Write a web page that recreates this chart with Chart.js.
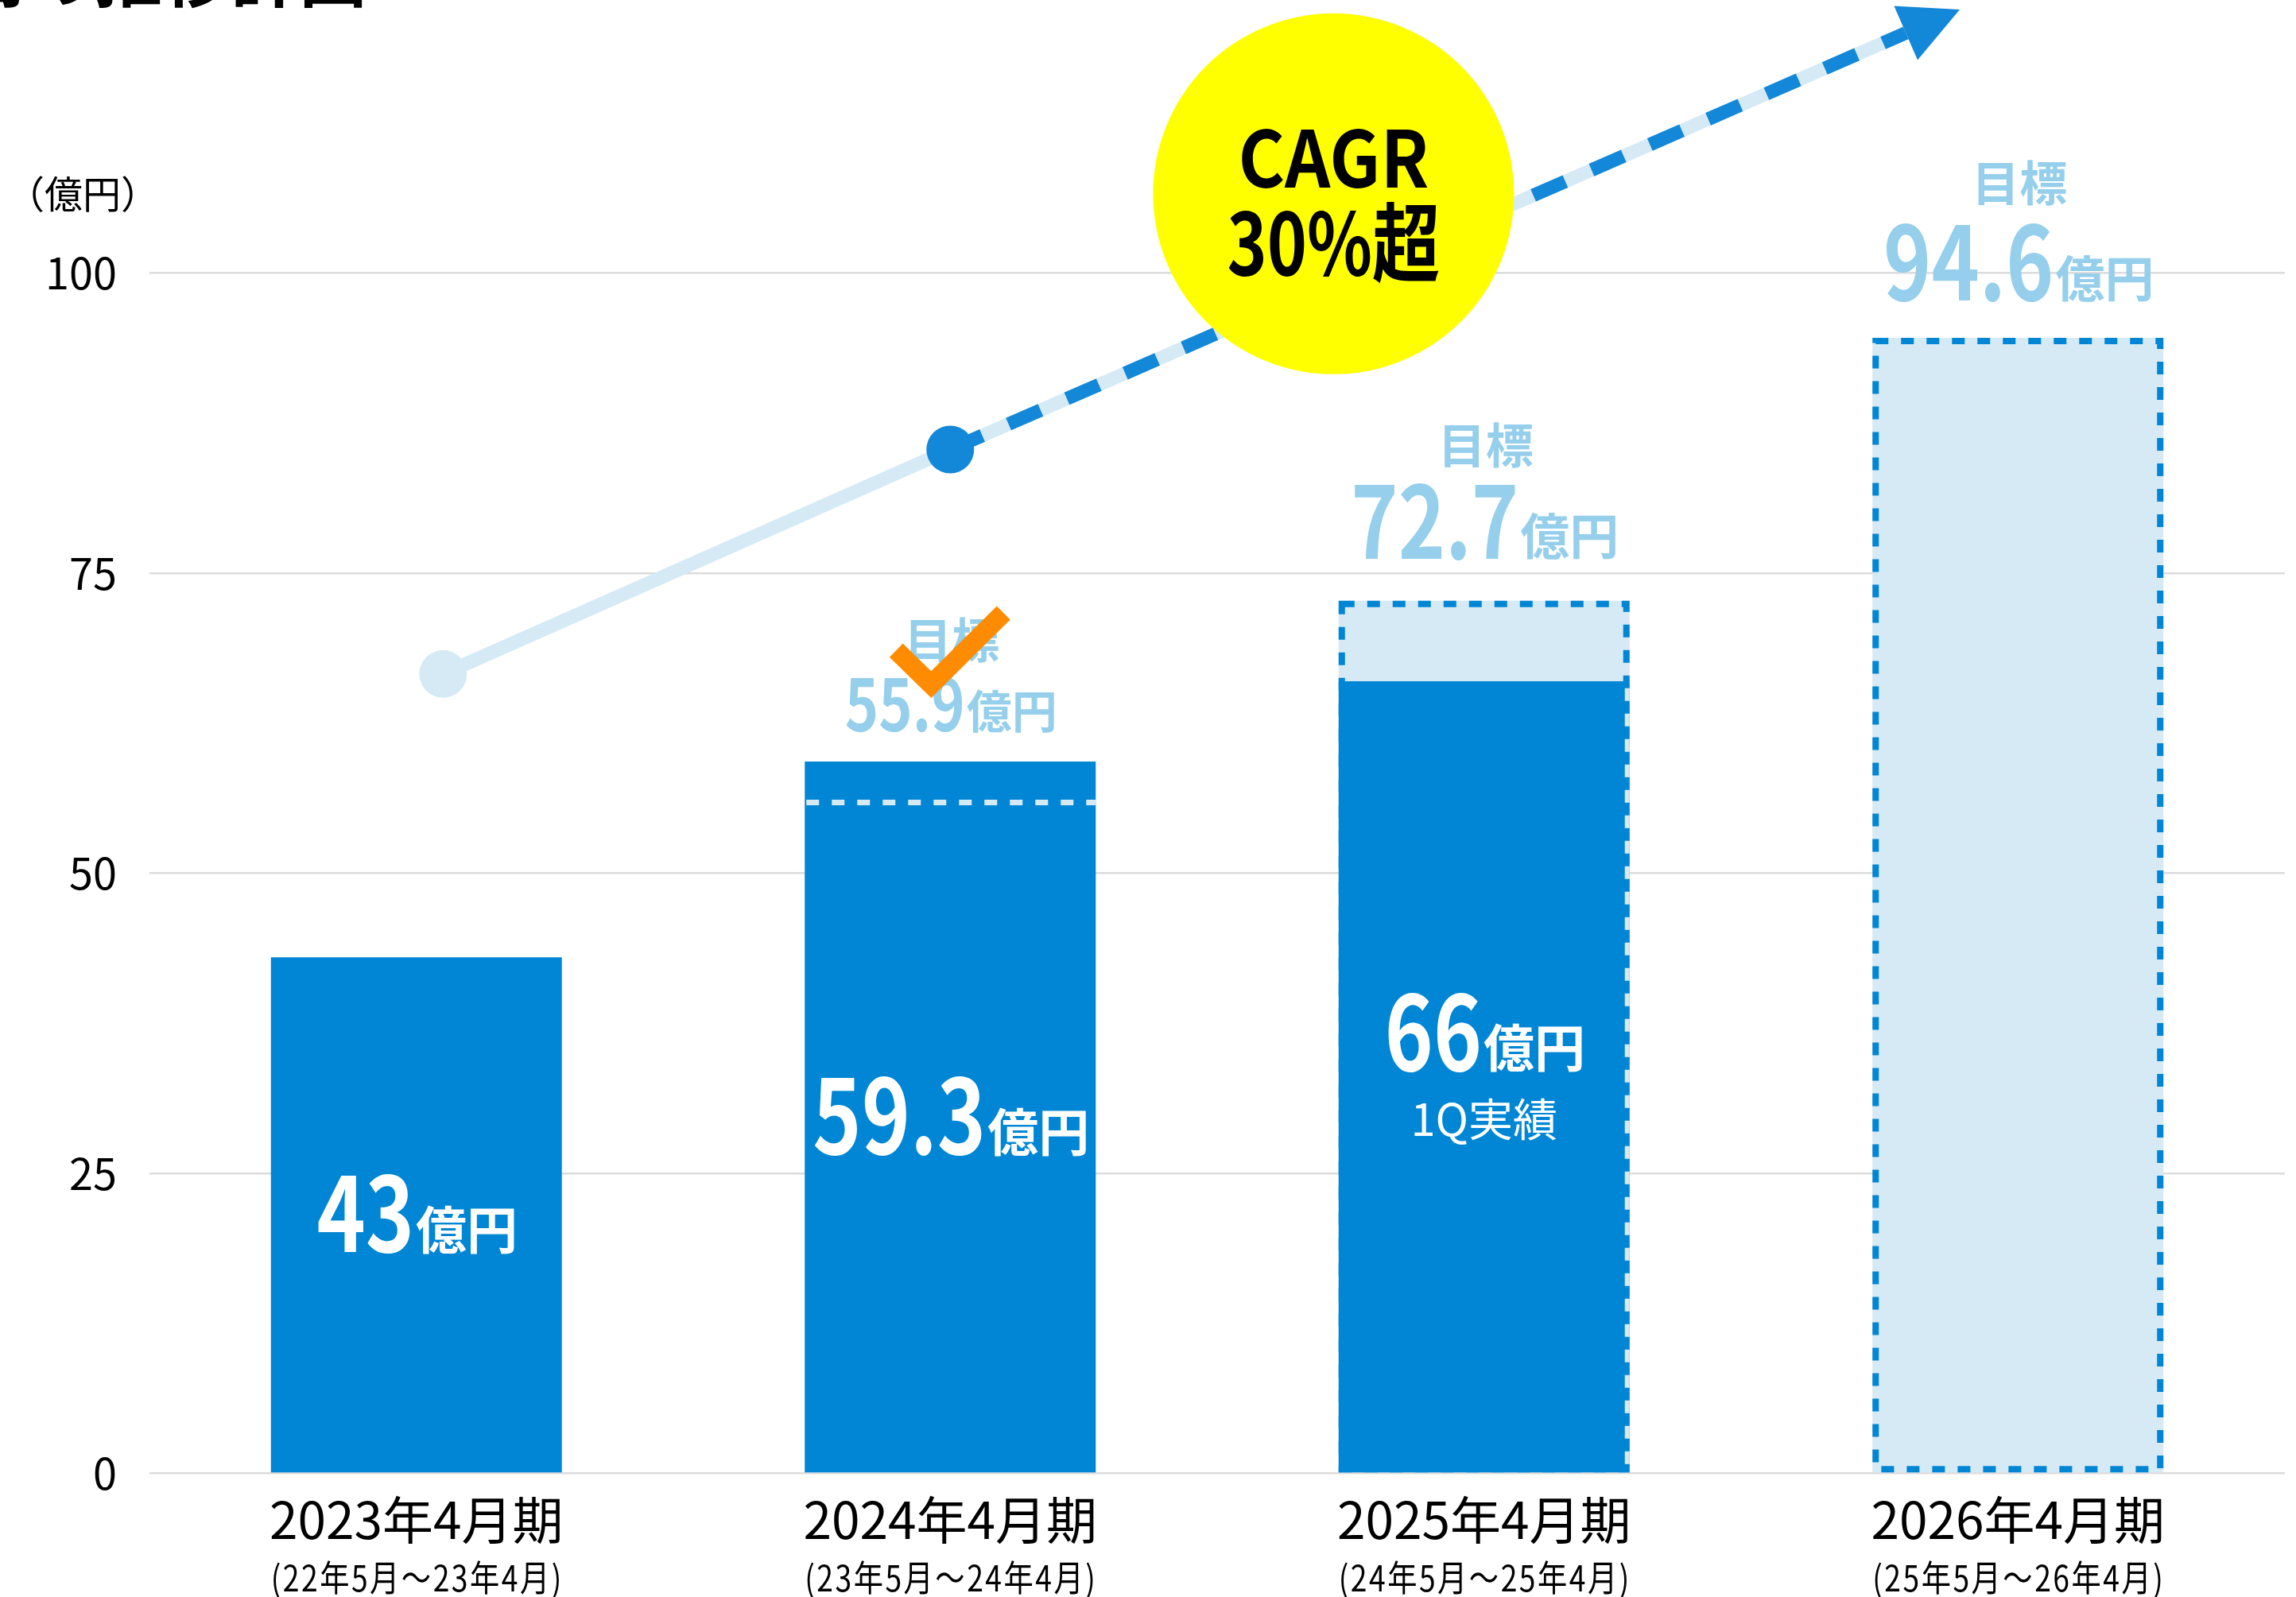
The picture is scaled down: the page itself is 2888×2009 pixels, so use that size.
<!DOCTYPE html>
<html lang="ja">
<head>
<meta charset="UTF-8">
<title>売上高推移計画</title>
<script src="https://cdn.jsdelivr.net/npm/chart.js"></script>
<style>
  html, body { margin: 0; padding: 0; background: #fff; }
  .chart-wrap { width: 2888px; height: 2009px; position: relative; }
</style>
</head>
<body>
<div class="chart-wrap"><canvas id="salesChart"></canvas></div>
<script>
// --- data ---
const periods = ['2023年4月期', '2024年4月期', '2025年4月期', '2026年4月期'];
const periodRanges = ['(22年5月～23年4月)', '(23年5月～24年4月)', '(24年5月～25年4月)', '(25年5月～26年4月)'];
const actualSales = [43, 59.3, 66, null];
const actualNotes = ['', '', '1Q実績', ''];
const targetSales = [null, 55.9, 72.7, 94.6];
const yTicks = [0, 25, 50, 75, 100];
const yMax = 122.75;
// growth line (x = category index)
const trendX = [0.05, 1];
const trendY = [66.6, 85.3];
const forecastX = [1, 2.79];
const forecastY = [85.3, 120];
const cagrLines = ['CAGR', '30%超'];
const cagrAt = [1.718, 106.6];
const unitLabel = '億円';
const axisUnit = '（億円）';
const titleText = '売上高の推移計画';

// --- styles ---
const FONT = '"Noto Sans CJK JP", "Noto Sans", sans-serif';
const BAR_BLUE = '#0086d4';
const LINE_BLUE = '#1488d8';
const LIGHT = '#d5eaf5';
const LABEL_BLUE = '#95cfeb';

const toPts = (xs, ys) => xs.map((x, i) => ({ x: x, y: ys[i] }));

// number (horizontally squeezed) followed by the unit
function drawAmount(ctx, cx, baseline, value, numSize, unitSize, color, squeeze) {
    const num = String(value);
    ctx.font = `bold ${numSize}px ${FONT}`;
    const w1 = ctx.measureText(num).width * squeeze;
    ctx.font = `bold ${unitSize}px ${FONT}`;
    const w2 = ctx.measureText(unitLabel).width;
    const x0 = cx - (w1 + w2) / 2;
    ctx.fillStyle = color;
    ctx.textAlign = 'left';
    ctx.textBaseline = 'alphabetic';
    ctx.save();
    ctx.translate(x0, baseline);
    ctx.scale(squeeze, 1);
    ctx.font = `bold ${numSize}px ${FONT}`;
    ctx.fillText(num, 0, 0);
    ctx.restore();
    ctx.font = `bold ${unitSize}px ${FONT}`;
    ctx.fillText(unitLabel, x0 + w1 + 2, baseline - unitSize * 0.07);
}

// target label sizes per bar: [number size, unit size, gap above bar top, title offset]
const targetStyle = [null, [90, 57, 38, 115], [126, 62, 53, 143], [128, 62, 47, 148]];

const decorPlugin = {
    id: 'decor',
    afterDatasetsDraw(chart) {
        const ctx = chart.ctx;
        const x = chart.scales.x, y = chart.scales.y, x2 = chart.scales.x2;
        const targetMeta = chart.getDatasetMeta(1);
        ctx.save();

        // dashed outline of target boxes
        targetSales.forEach((v, i) => {
            const bar = targetMeta.data[i];
            if (v == null || !bar) return;
            const left = bar.x - bar.width / 2, right = bar.x + bar.width / 2;
            const top = bar.y, bottom = bar.base;
            const act = actualSales[i];
            if (act != null && act >= v) {
                // target reached: dashed light line across the bar
                ctx.strokeStyle = LIGHT;
                ctx.lineWidth = 7;
                ctx.setLineDash([16, 16]);
                ctx.beginPath();
                ctx.moveTo(left + 2, y.getPixelForValue(v));
                ctx.lineTo(right, y.getPixelForValue(v));
                ctx.stroke();
            } else {
                if (act != null) {
                    // light edge where the box runs along the actual bar
                    ctx.setLineDash([]);
                    ctx.strokeStyle = LIGHT;
                    ctx.lineWidth = 6;
                    ctx.beginPath();
                    ctx.moveTo(right - 3, y.getPixelForValue(act));
                    ctx.lineTo(right - 3, bottom);
                    ctx.stroke();
                }
                ctx.strokeStyle = BAR_BLUE;
                ctx.lineWidth = 8;
                ctx.setLineDash([16, 16]);
                ctx.strokeRect(left + 4, top + 4, right - left - 8, bottom - top - 8);
            }
        });
        ctx.setLineDash([]);

        // arrow head at end of forecast line
        const fm = chart.getDatasetMeta(2);
        const pA = fm.data[fm.data.length - 2], pB = fm.data[fm.data.length - 1];
        const ang = Math.atan2(pB.y - pA.y, pB.x - pA.x);
        const len = 74, half = 37;
        ctx.fillStyle = LINE_BLUE;
        ctx.beginPath();
        ctx.moveTo(pB.x + Math.cos(ang) * len, pB.y + Math.sin(ang) * len);
        ctx.lineTo(pB.x - Math.sin(ang) * half, pB.y + Math.cos(ang) * half);
        ctx.lineTo(pB.x + Math.sin(ang) * half, pB.y - Math.cos(ang) * half);
        ctx.closePath();
        ctx.fill();

        // CAGR bubble
        const cx = x2.getPixelForValue(cagrAt[0]), cy = y.getPixelForValue(cagrAt[1]);
        ctx.fillStyle = '#ffff00';
        ctx.beginPath();
        ctx.arc(cx, cy, 227, 0, Math.PI * 2);
        ctx.fill();
        ctx.fillStyle = '#000';
        ctx.textAlign = 'center';
        ctx.textBaseline = 'middle';
        ctx.font = `bold 98px ${FONT}`;
        ctx.fillText(cagrLines[0], cx, cy - 45, 240);
        ctx.font = `bold 108px ${FONT}`;
        ctx.fillText(cagrLines[1], cx, cy + 61, 268);

        // white labels inside actual bars
        const actualMeta = chart.getDatasetMeta(0);
        actualSales.forEach((v, i) => {
            const bar = actualMeta.data[i];
            if (v == null || !bar) return;
            const mid = (bar.y + bar.base) / 2;
            if (actualNotes[i]) {
                drawAmount(ctx, bar.x, mid - 8, v, 130, 64, '#fff', 0.8);
                ctx.fillStyle = '#fff';
                ctx.textAlign = 'center';
                ctx.textBaseline = 'middle';
                ctx.font = `56px ${FONT}`;
                ctx.fillText(actualNotes[i], bar.x, mid + 53);
            } else {
                drawAmount(ctx, bar.x, mid + 47, v, 130, 64, '#fff', 0.8);
            }
        });

        // target labels above bars
        targetSales.forEach((v, i) => {
            if (v == null) return;
            const st = targetStyle[i];
            const topVal = Math.max(v, actualSales[i] || 0);
            const base = y.getPixelForValue(topVal) - st[2];
            const cxl = x.getPixelForValue(i);
            drawAmount(ctx, cxl, base, v, st[0], st[1], LABEL_BLUE, 0.8);
            ctx.fillStyle = LABEL_BLUE;
            ctx.textAlign = 'center';
            ctx.textBaseline = 'middle';
            ctx.font = `bold 60px ${FONT}`;
            ctx.fillText('目標', cxl + 2, base - st[3]);
            if (actualSales[i] != null && actualSales[i] >= v) {
                // achieved: orange check mark
                ctx.strokeStyle = '#ff8c00';
                ctx.lineWidth = 24;
                ctx.lineJoin = 'miter';
                ctx.lineCap = 'butt';
                ctx.beginPath();
                ctx.moveTo(cxl - 68, base - 102);
                ctx.lineTo(cxl - 24, base - 59);
                ctx.lineTo(cxl + 67, base - 149);
                ctx.stroke();
            }
        });

        ctx.restore();
    },
    afterDraw(chart) {
        const ctx = chart.ctx;
        const x = chart.scales.x;
        const area = chart.chartArea;
        ctx.save();
        // period sub labels
        ctx.fillStyle = '#000';
        ctx.textAlign = 'center';
        ctx.textBaseline = 'middle';
        ctx.font = `45px ${FONT}`;
        if ('letterSpacing' in ctx) ctx.letterSpacing = '3px';
        periodRanges.forEach((t, i) => {
            ctx.fillText(t, x.getPixelForValue(i) + 1, area.bottom + 131, 368);
        });
        if ('letterSpacing' in ctx) ctx.letterSpacing = '0px';
        // unit label
        ctx.font = `48px ${FONT}`;
        ctx.fillText(axisUnit, 104, 244);
        // heading (cut off at the top edge)
        ctx.textAlign = 'right';
        ctx.textBaseline = 'alphabetic';
        ctx.font = `bold 86px ${FONT}`;
        ctx.fillText(titleText, 462, 2);
        ctx.restore();
    }
};

const ctx = document.getElementById('salesChart').getContext('2d');
const salesChart = new Chart(ctx, {
    type: 'bar',
    data: {
        labels: periods,
        datasets: [
            {
                label: '実績',
                data: actualSales,
                backgroundColor: BAR_BLUE,
                grouped: false,
                barPercentage: 0.545,
                categoryPercentage: 1,
                order: 3
            },
            {
                label: '目標',
                data: targetSales,
                backgroundColor: LIGHT,
                grouped: false,
                barPercentage: 0.545,
                categoryPercentage: 1,
                order: 4
            },
            {
                type: 'line',
                label: '成長見通し',
                data: toPts(forecastX, forecastY),
                xAxisID: 'x2',
                borderColor: LINE_BLUE,
                borderWidth: 17,
                borderDash: [44, 36],
                borderCapStyle: 'butt',
                pointRadius: [30, 0],
                pointBackgroundColor: LINE_BLUE,
                pointBorderWidth: 0,
                clip: false,
                order: 0
            },
            {
                type: 'line',
                label: '成長見通し（下地）',
                data: toPts(forecastX, forecastY),
                xAxisID: 'x2',
                borderColor: LIGHT,
                borderWidth: 17,
                borderCapStyle: 'butt',
                pointRadius: 0,
                clip: false,
                order: 1
            },
            {
                type: 'line',
                label: '推移',
                data: toPts(trendX, trendY),
                xAxisID: 'x2',
                borderColor: LIGHT,
                borderWidth: 17,
                borderCapStyle: 'butt',
                pointRadius: [30, 0],
                pointBackgroundColor: LIGHT,
                pointBorderWidth: 0,
                order: 2
            }
        ]
    },
    options: {
        responsive: true,
        maintainAspectRatio: false,
        animation: false,
        events: [],
        layout: { padding: { top: 0, left: 0, bottom: 0, right: 14 }, autoPadding: false },
        plugins: { legend: { display: false }, tooltip: { enabled: false } },
        scales: {
            x: {
                type: 'category',
                offset: true,
                grid: { display: false },
                border: { display: false },
                ticks: { color: '#000', font: { family: FONT, size: 64 }, padding: 12, maxRotation: 0, autoSkip: false },
                afterFit: s => { s.height = 155.5; s.paddingLeft = 0; s.paddingRight = 0; }
            },
            x2: { type: 'linear', display: false, offset: false, bounds: 'data', min: -0.5, max: 3.5 },
            y: {
                min: 0,
                max: yMax,
                grid: { color: '#dcdcdc', lineWidth: 2.5, drawTicks: false },
                border: { display: false },
                ticks: { color: '#000', font: { family: FONT, size: 54 }, padding: 41 },
                afterBuildTicks: s => { s.ticks = yTicks.map(v => ({ value: v })); },
                afterFit: s => { s.width = 188; s.paddingTop = 0; s.paddingBottom = 0; }
            }
        }
    },
    plugins: [decorPlugin]
});
</script>
</body>
</html>
